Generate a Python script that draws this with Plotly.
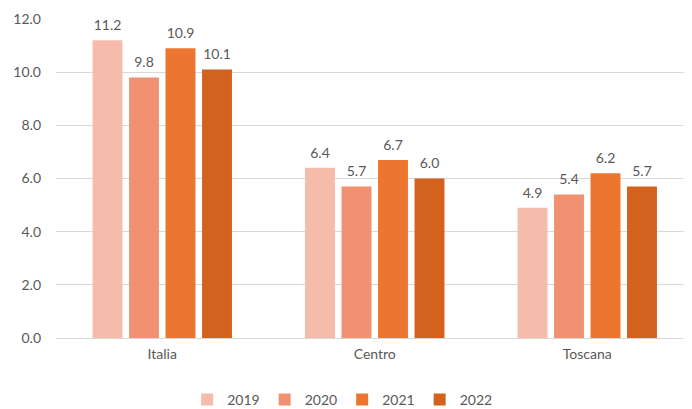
import plotly.graph_objects as go

categories = ["Italia", "Centro", "Toscana"]
years = ["2019", "2020", "2021", "2022"]
values = {
    "2019": [11.2, 6.4, 4.9],
    "2020": [9.8, 5.7, 5.4],
    "2021": [10.9, 6.7, 6.2],
    "2022": [10.1, 6.0, 5.7],
}
colors = {"2019": "#F5BCAC", "2020": "#F09272", "2021": "#EC7630", "2022": "#D3621F"}

fig = go.Figure()
for y in years:
    fig.add_trace(go.Bar(
        x=categories, y=values[y], name=y, offsetgroup=y,
        marker=dict(color=colors[y], line=dict(width=0)),
    ))
for y in years:
    fig.add_trace(go.Scatter(
        x=categories, y=values[y], name=y, offsetgroup=y, showlegend=False,
        mode="markers+text", marker=dict(size=9, opacity=0),
        text=[f"{v:.1f}" for v in values[y]], textposition="top center",
        textfont=dict(size=14, color="#595959"), cliponaxis=False, hoverinfo="skip",
    ))

fig.update_layout(
    width=684, height=401,
    margin=dict(l=48, r=0, t=11, b=71, autoexpand=False),
    paper_bgcolor="white", plot_bgcolor="white",
    font=dict(family="Lato", size=14, color="#595959"),
    barmode="group", bargap=0.313, bargroupgap=0.18,
    scattermode="group", scattergap=0.313,
    legend=dict(orientation="h", x=0.45, xanchor="center", y=-0.194, yanchor="middle",
                font=dict(size=14, color="#595959"), itemwidth=30, traceorder="normal"),
    xaxis=dict(range=[-0.5, 2.493], showline=True, linecolor="#d9d9d9", ticks="",
               tickfont=dict(size=14), ticklabelstandoff=3),
    yaxis=dict(range=[0, 12], dtick=2, tickformat=".1f", showgrid=True,
               gridcolor="#d9d9d9", zeroline=False, ticks="", tickfont=dict(size=14),
               ticklabelstandoff=14),
)
fig.write_html("out.html")
